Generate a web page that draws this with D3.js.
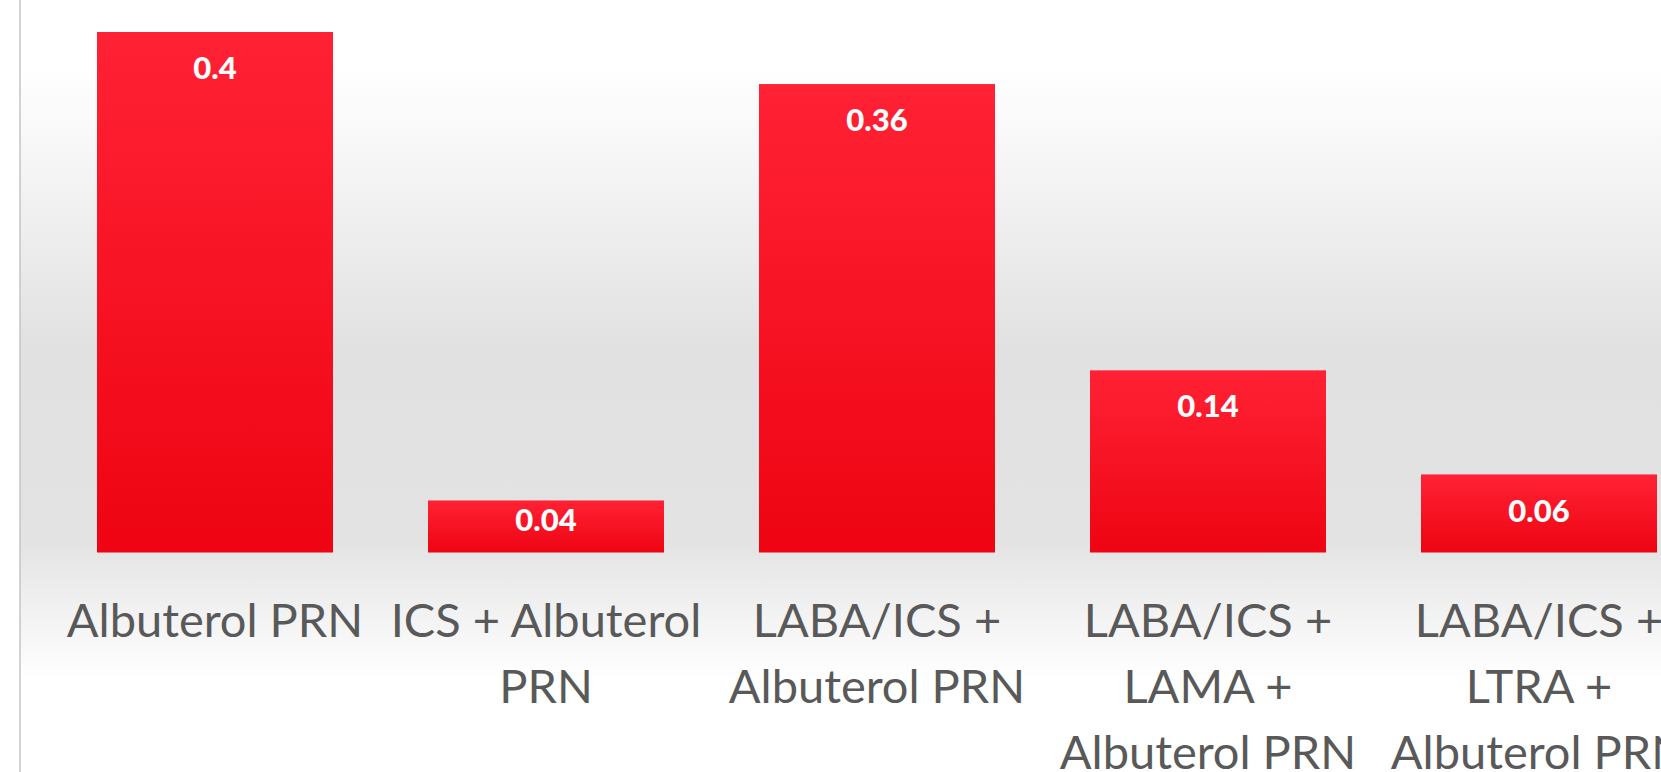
<!DOCTYPE html>
<html>
<head>
<meta charset="utf-8">
<script src="https://cdn.jsdelivr.net/npm/d3@7"></script>
<style>
html,body{margin:0;padding:0;background:#fff;overflow:hidden;}
svg{display:block;}
</style>
</head>
<body>
<svg id="chart" width="1661" height="772"></svg>
<script>
const categories = [
  ["Albuterol PRN"],
  ["ICS + Albuterol", "PRN"],
  ["LABA/ICS +", "Albuterol PRN"],
  ["LABA/ICS +", "LAMA +", "Albuterol PRN"],
  ["LABA/ICS +", "LTRA +", "Albuterol PRN"]
];
const values = [0.4, 0.04, 0.36, 0.14, 0.06];
const valueLabels = ["0.4", "0.04", "0.36", "0.14", "0.06"];

const W = 1661, H = 772;
const svg = d3.select("#chart");
const defs = svg.append("defs");

const bg = defs.append("linearGradient").attr("id","bg").attr("x1",0).attr("y1",0).attr("x2",0).attr("y2",1);
[[0,"#ffffff"],[0.09,"#ffffff"],[0.3,"#eeeeee"],[0.45,"#e1e1e1"],[0.70,"#e3e3e3"],[0.80,"#f3f3f3"],[0.88,"#ffffff"],[1,"#ffffff"]]
  .forEach(([o,c]) => bg.append("stop").attr("offset",o).attr("stop-color",c));

const bar = defs.append("linearGradient").attr("id","bar").attr("x1",0).attr("y1",0).attr("x2",0).attr("y2",1);
[[0,"#ff2234"],[1,"#ee0412"]].forEach(([o,c]) => bar.append("stop").attr("offset",o).attr("stop-color",c));

svg.append("rect").attr("x",20).attr("y",0).attr("width",W-20).attr("height",H).attr("fill","url(#bg)");

const idx = categories.map((d,i)=>i);
const x = d3.scaleBand().domain(idx).range([49.5, 49.5 + 331*5]).paddingInner(0.287).paddingOuter(0.1435);
const y = d3.scaleLinear().domain([0, 0.4]).range([552.5, 32]);

svg.append("g").selectAll("rect").data(values).join("rect")
  .attr("x",(d,i)=>x(i))
  .attr("y",d=>y(d))
  .attr("width",x.bandwidth())
  .attr("height",d=>y(0)-y(d))
  .attr("fill","url(#bar)");

// data labels
svg.append("g").selectAll("text").data(values).join("text")
  .attr("x",(d,i)=>x(i)+x.bandwidth()/2)
  .attr("y",d=>{ const h=y(0)-y(d); return y(d)+Math.min(36,h-33); })
  .attr("dy","0.36em")
  .attr("text-anchor","middle")
  .attr("fill","#ffffff")
  .attr("font-family","Lato, 'Open Sans', sans-serif")
  .attr("font-weight","900")
  .attr("font-size",31)
  .text((d,i)=>valueLabels[i]);

// category labels
const lab = svg.append("g").selectAll("text").data(categories).join("text")
  .attr("x",(d,i)=>x(i)+x.bandwidth()/2)
  .attr("y",637)
  .attr("text-anchor","middle")
  .attr("fill","#595959")
  .attr("font-family","Lato, 'Open Sans', sans-serif")
  .attr("font-size",47);
lab.selectAll("tspan").data(d=>d).join("tspan")
  .attr("x",function(){ return this.parentNode.getAttribute("x"); })
  .attr("dy",(d,j)=>j===0?0:66)
  .text(d=>d);

// left axis line
svg.append("line").attr("x1",20).attr("x2",20).attr("y1",0).attr("y2",H)
  .attr("stroke","#c4c4c4").attr("stroke-width",1.5);
</script>
</body>
</html>
